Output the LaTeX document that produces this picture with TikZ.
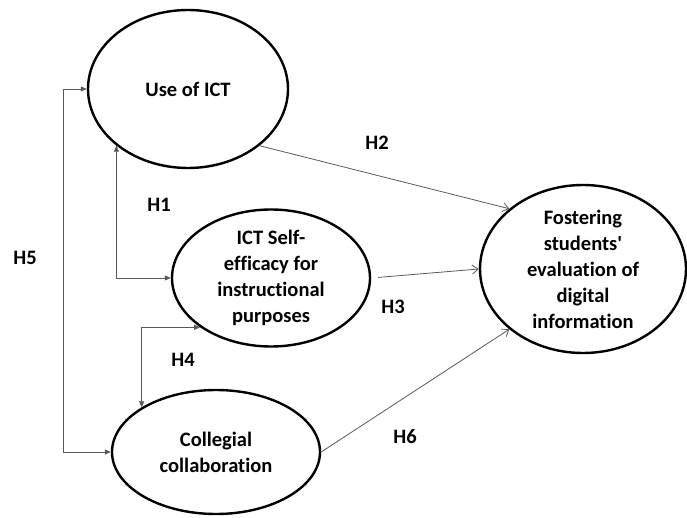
\documentclass[tikz,border=0pt]{standalone}
\usepackage{fontspec}
\setmainfont{Carlito}[Ligatures=NoCommon]
\usetikzlibrary{shapes,arrows.meta,positioning,calc}

\begin{document}
\begin{tikzpicture}[
    x=1pt, y=-1pt,
    latent/.style={ellipse, draw, line width=2.4pt, inner sep=0pt},
    txt/.style={align=center, font=\bfseries\fontsize{20.5}{26}\selectfont},
    hyp/.style={font=\bfseries\fontsize{20.5}{24}\selectfont},
    link/.style={draw=black!65, line width=0.8pt},
    biarrow/.style={link, {Triangle[length=6pt,width=5pt]}-{Triangle[length=6pt,width=5pt]}},
    effect/.style={link, -{Straight Barb[length=6pt,width=9pt]}}
]
    \useasboundingbox (0,0) rectangle (687,518);

    % Use of ICT
    \node[latent, minimum width=200pt, minimum height=158pt] (ict) at (188,89) {};
    \node[txt] (icttext) at (ict) {Use of ICT};

    % Self-efficacy
    \node[latent, minimum width=198pt, minimum height=137pt] (self) at (271,278) {};
    \node[txt] (selftext) at (self) {ICT Self-\\efficacy for\\instructional\\purposes};

    % Collegial collaboration
    \node[latent, minimum width=208pt, minimum height=124pt] (coll) at (216,452) {};
    \node[txt] (colltext) at (coll) {Collegial\\collaboration};

    % Outcome
    \node[latent, minimum width=206pt, minimum height=168pt] (fost) at (583,269) {};
    \node[txt] (fosttext) at (fost) {Fostering\\students\textquotesingle\\evaluation of\\digital\\information};

    % Correlations
    \draw[biarrow] (ict.south west) -- (ict.south west |- self.west) -- (self.west);
    \draw[biarrow] (self.south west) -- (coll.north west |- self.south west) -- (coll.north west);
    \draw[biarrow] (ict.west) -- ++(-23,0) |- (coll.west);

    % Effects
    \draw[effect] (ict.south east) -- (fost.north west);
    \draw[effect, shorten <=7pt] (self.east) -- (fost.west);
    \draw[effect] (coll.east) -- (fost.south west);

    % Hypotheses
    \node[hyp] (h1) at (159,205) {H1};
    \node[hyp] (h2) at (377,143) {H2};
    \node[hyp] (h3) at (393,307) {H3};
    \node[hyp] (h4) at (183,360) {H4};
    \node[hyp] (h5) at (25,258) {H5};
    \node[hyp] (h6) at (405,437) {H6};
\end{tikzpicture}
\end{document}
